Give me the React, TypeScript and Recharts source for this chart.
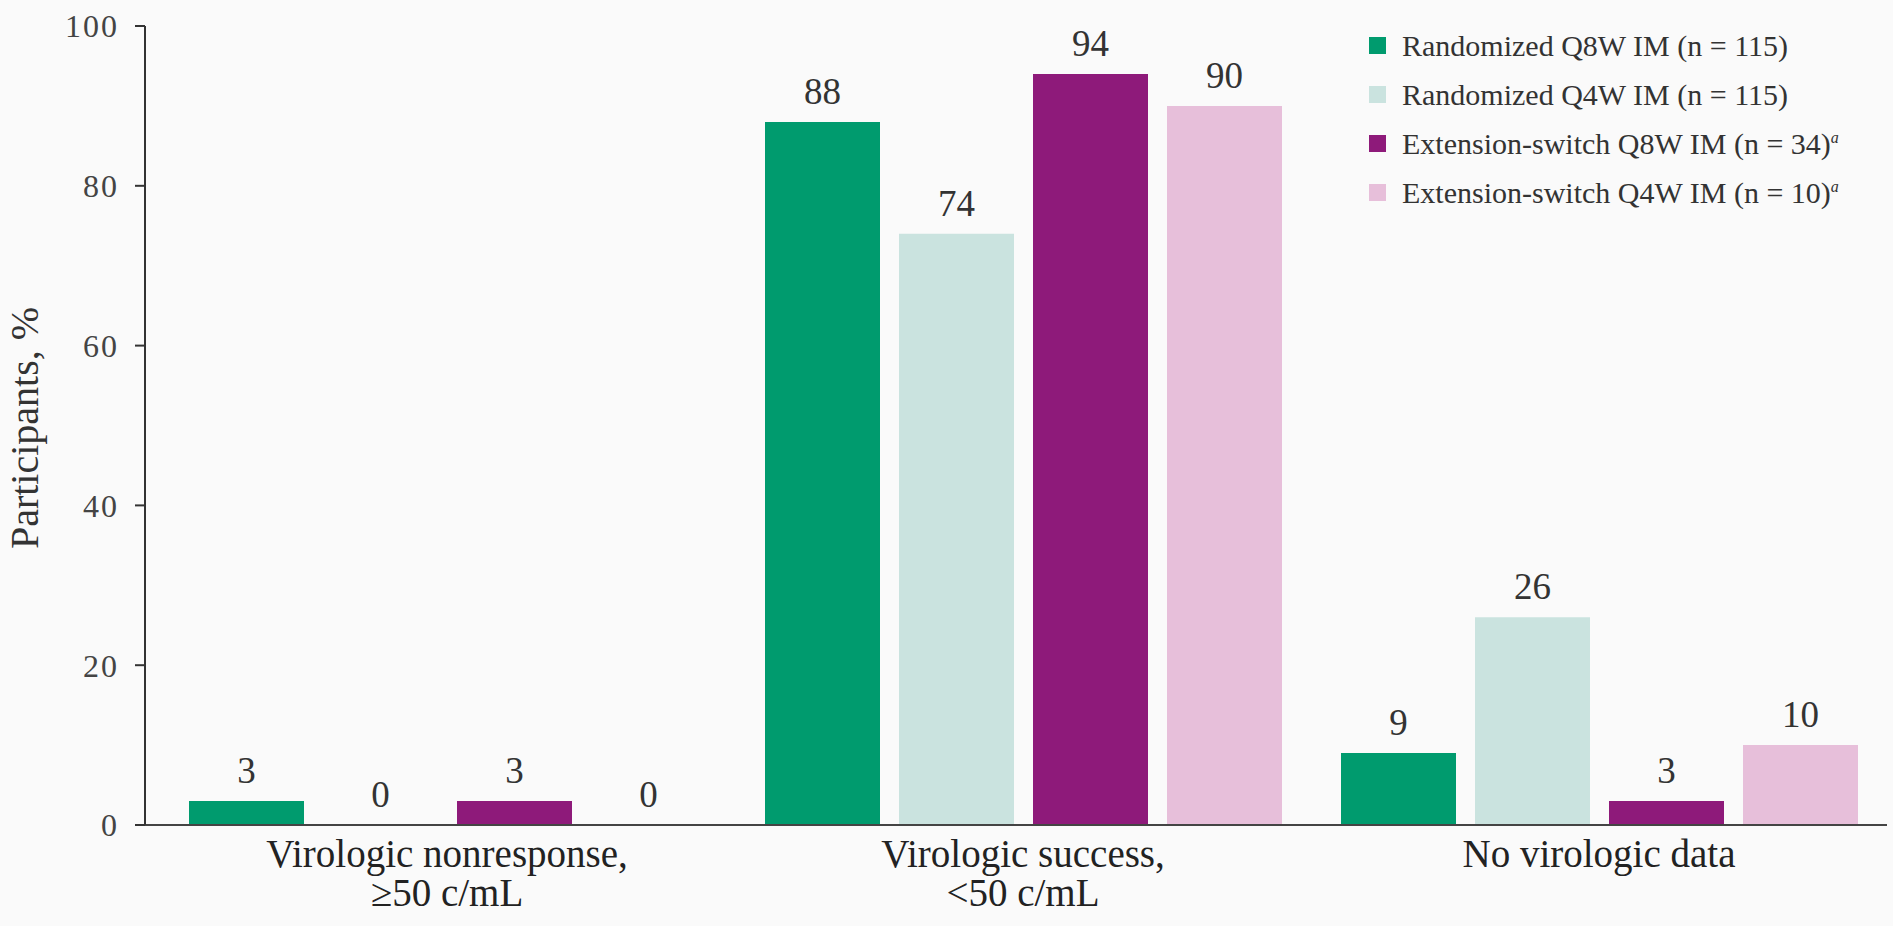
import React from 'react';
import { BarChart, Bar, XAxis, YAxis, LabelList } from 'recharts';

const categories = ['Virologic nonresponse,|≥50 c/mL', 'Virologic success,|<50 c/mL', 'No virologic data'];
const randQ8W = [3, 88, 9];
const randQ4W = [0, 74, 26];
const extQ8W = [3, 94, 3];
const extQ4W = [0, 90, 10];
const yTicks = [0, 20, 40, 60, 80, 100];

const seriesInfo = [
  { key: 'randQ8W', name: 'Randomized Q8W IM (n = 115)', sup: '', color: '#009B6E' },
  { key: 'randQ4W', name: 'Randomized Q4W IM (n = 115)', sup: '', color: '#CAE3DF' },
  { key: 'extQ8W', name: 'Extension-switch Q8W IM (n = 34)', sup: 'a', color: '#8E1A7A' },
  { key: 'extQ4W', name: 'Extension-switch Q4W IM (n = 10)', sup: 'a', color: '#E7BFDA' },
];

const data = categories.map((c, i) => ({
  category: c,
  randQ8W: randQ8W[i],
  randQ4W: randQ4W[i],
  extQ8W: extQ8W[i],
  extQ4W: extQ4W[i],
}));

const FONT = '"Liberation Serif", "DejaVu Serif", serif';

const CatTick = (props: any) => {
  const { x, y, payload } = props;
  const lines = String(payload.value).split('|');
  return (
    <text x={x} y={y} textAnchor="middle" fontFamily={FONT} fontSize={39} fill="#222">
      {lines.map((l, i) => (
        <tspan key={i} x={x} dy={i === 0 ? 34 : 39}>{l}</tspan>
      ))}
    </text>
  );
};

const YLabel = () => (
  <text
    x={24}
    y={428}
    transform="rotate(-90, 24, 428)"
    textAnchor="middle"
    dominantBaseline="central"
    fontFamily={FONT}
    fontSize={40}
    fill="#333"
  >
    Participants, %
  </text>
);

const LegendBox = () => (
  <div style={{ position: 'absolute', left: 1369, top: 21, fontFamily: FONT, fontSize: 30, color: '#333' }}>
    {seriesInfo.map((s) => (
      <div key={s.key} style={{ display: 'flex', alignItems: 'center', height: 49, whiteSpace: 'nowrap' }}>
        <span style={{ display: 'inline-block', width: 17, height: 17, background: s.color, marginRight: 16 }} />
        <span>
          {s.name}
          {s.sup ? <sup style={{ fontSize: 16, fontStyle: 'italic' }}>{s.sup}</sup> : null}
        </span>
      </div>
    ))}
  </div>
);

export default function App() {
  return (
    <div style={{ position: 'absolute', left: 0, top: 0, width: 1893, height: 926, background: '#fafafa' }}>
      <BarChart
        width={1893}
        height={926}
        data={data}
        margin={{ top: 26, right: 6, bottom: 0, left: 0 }}
        barCategoryGap={30}
        barGap={19}
      >
        <XAxis
          dataKey="category"
          tick={<CatTick />}
          tickLine={false}
          axisLine={{ stroke: '#444', strokeWidth: 2 }}
          padding={{ left: 14, right: 0 }}
          height={101}
          interval={0}
        />
        <YAxis
          width={145}
          domain={[0, 100]}
          ticks={yTicks}
          tickSize={10}
          tickMargin={16}
          tickLine={{ stroke: '#333', strokeWidth: 2 }}
          axisLine={{ stroke: '#333', strokeWidth: 2 }}
          tick={{ fontFamily: FONT, fontSize: 32, fill: '#444', letterSpacing: 2 }}
          label={<YLabel />}
        />
        {seriesInfo.map((s) => (
          <Bar key={s.key} dataKey={s.key} name={s.name} fill={s.color} minPointSize={0.01} isAnimationActive={false}>
            <LabelList
              dataKey={s.key}
              position="top"
              offset={18}
              style={{ fontFamily: FONT, fontSize: 37, fill: '#333' }}
            />
          </Bar>
        ))}
      </BarChart>
      <LegendBox />
    </div>
  );
}
